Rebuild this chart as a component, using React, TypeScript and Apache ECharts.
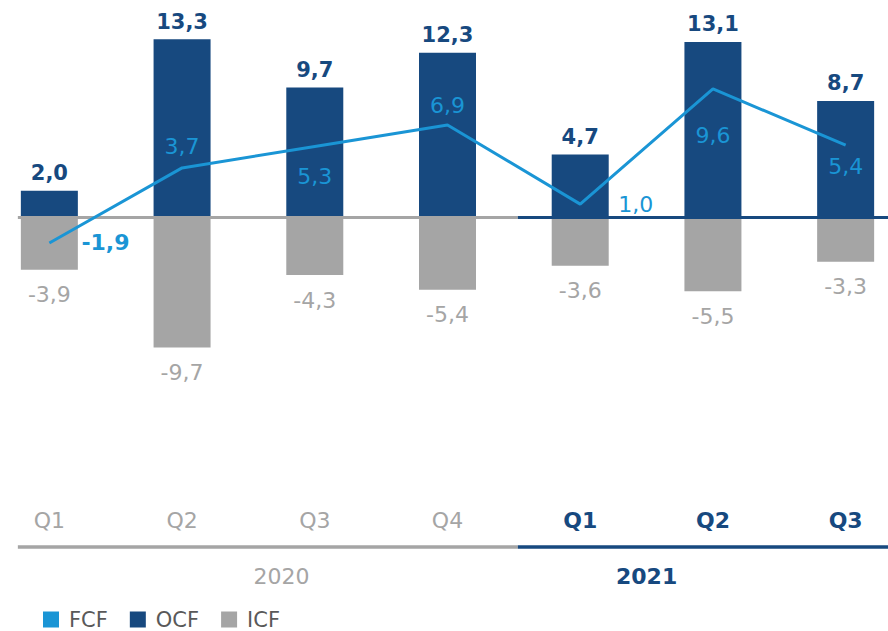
import React, { useEffect, useRef } from "react";
import * as echarts from "echarts";

const quarters = ["Q1", "Q2", "Q3", "Q4", "Q1", "Q2", "Q3"];
const years = ["2020", "2020", "2020", "2020", "2021", "2021", "2021"];
const yearLabels = ["2020", "2021"];
const ocfValues = [2.0, 13.3, 9.7, 12.3, 4.7, 13.1, 8.7];
const icfValues = [-3.9, -9.7, -4.3, -5.4, -3.6, -5.5, -3.3];
const fcfValues = [-1.9, 3.7, 5.3, 6.9, 1.0, 9.6, 5.4];

// label placement for FCF points (style, not data)
const fcfLabelPos = ["right", "top", "bottom", "top", "right", "bottom", "bottom"];
const fcfLabelDist = [32, 10, 19, 8, 38, 36, 10];
const fcfLabelWeight = ["bold", "normal", "normal", "normal", "normal", "normal", "normal"];

const DARK = "#17497f";
const LIGHT = "#1a95d5";
const GRAY = "#a5a5a5";
const FONT = "DejaVu Sans";

const SHIFT = 17; // chart canvas starts 17px left of the window
const fmt = (v: number) => v.toFixed(1).replace(".", ",");

export default function App() {
  const ref = useRef<HTMLDivElement>(null);
  useEffect(() => {
    if (!ref.current) return;
    const chart = echarts.init(ref.current, null, { renderer: "svg" });
    const cats = quarters.map((q, i) => years[i] + " " + q);
    const option: any = {
      animation: false,
      grid: { left: 0, right: 0, top: 16.5, bottom: 145.5 },
      legend: {
        data: ["FCF", "OCF", "ICF"],
        left: 38 + SHIFT,
        top: 604,
        icon: "rect",
        itemWidth: 16,
        itemHeight: 16,
        itemGap: 22,
        textStyle: { fontFamily: FONT, fontSize: 21, color: "#595959", padding: [0, 0, 0, 5] },
      },
      xAxis: {
        type: "category",
        data: cats,
        axisLine: { show: false },
        axisTick: { show: false },
        axisLabel: {
          margin: 24,
          interval: 0,
          formatter: (_v: string, i: number) =>
            years[i] === yearLabels[1] ? `{b|${quarters[i]}}` : `{a|${quarters[i]}}`,
          rich: {
            a: { fontFamily: FONT, fontSize: 22, color: GRAY },
            b: { fontFamily: FONT, fontSize: 22, color: DARK, fontWeight: "bold" },
          },
        },
      },
      yAxis: {
        type: "value",
        min: -20,
        max: 15,
        show: false,
        splitLine: { show: false },
      },
      series: [
        {
          name: "OCF",
          type: "bar",
          stack: "cf",
          barWidth: 57,
          data: ocfValues,
          itemStyle: { color: DARK },
          z: 2,
          label: {
            show: true,
            position: "top",
            distance: 7,
            formatter: (p: any) => fmt(p.value),
            fontFamily: FONT,
            fontSize: 21,
            fontWeight: "bold",
            color: DARK,
          },
        },
        {
          name: "ICF",
          type: "bar",
          stack: "cf",
          barWidth: 57,
          data: icfValues,
          itemStyle: { color: GRAY },
          z: 2,
          label: {
            show: true,
            position: "bottom",
            distance: 14,
            formatter: (p: any) => fmt(p.value),
            fontFamily: FONT,
            fontSize: 22,
            color: GRAY,
          },
        },
        {
          name: "FCF",
          type: "line",
          data: fcfValues.map((v, i) => ({
            value: v,
            label: { position: fcfLabelPos[i], distance: fcfLabelDist[i], fontWeight: fcfLabelWeight[i] },
          })),
          symbol: "circle",
          symbolSize: 0.1,
          showSymbol: true,
          lineStyle: { color: LIGHT, width: 3 },
          itemStyle: { color: LIGHT },
          z: 10,
          label: {
            show: true,
            formatter: (p: any) => fmt(p.value),
            fontFamily: FONT,
            fontSize: 22,
            color: LIGHT,
          },
        },
      ],
    };
    chart.setOption(option);

    const x = (i: number) => {
      const a = chart.convertToPixel({ xAxisIndex: 0 }, 0) as number;
      const b = chart.convertToPixel({ xAxisIndex: 0 }, 1) as number;
      return a + (b - a) * i;
    };
    const y0 = chart.convertToPixel({ yAxisIndex: 0 }, 0) as number;
    const yAxisLine = 547;
    const split = x(3.5) + 4;
    const start = x(0) - 31.5;
    const end = x(6.5) + 10;
    chart.setOption({
      graphic: [
        { type: "line", z: 5, shape: { x1: start, y1: y0, x2: split, y2: y0 }, style: { stroke: GRAY, lineWidth: 3 } },
        { type: "line", z: 5, shape: { x1: split, y1: y0, x2: end, y2: y0 }, style: { stroke: DARK, lineWidth: 3 } },
        { type: "line", z: 5, shape: { x1: start, y1: yAxisLine, x2: split, y2: yAxisLine }, style: { stroke: GRAY, lineWidth: 3.5 } },
        { type: "line", z: 5, shape: { x1: split, y1: yAxisLine, x2: end, y2: yAxisLine }, style: { stroke: DARK, lineWidth: 3.5 } },
        {
          type: "text",
          x: x(1.75),
          y: 576,
          style: { text: yearLabels[0], fontFamily: FONT, fontSize: 22, fill: GRAY, align: "center", verticalAlign: "middle" },
        },
        {
          type: "text",
          x: x(4.5),
          y: 576,
          style: { text: yearLabels[1], fontFamily: FONT, fontSize: 22, fontWeight: "bold", fill: DARK, align: "center", verticalAlign: "middle" },
        },
      ],
    });
    return () => chart.dispose();
  }, []);
  return (
    <div style={{ position: "fixed", left: 0, top: 0, width: 888, height: 631, overflow: "hidden", background: "#fff" }}>
      <div
        ref={ref}
        style={{ position: "absolute", left: -SHIFT, top: 0, width: 929, height: 631 }}
      />
    </div>
  );
}
